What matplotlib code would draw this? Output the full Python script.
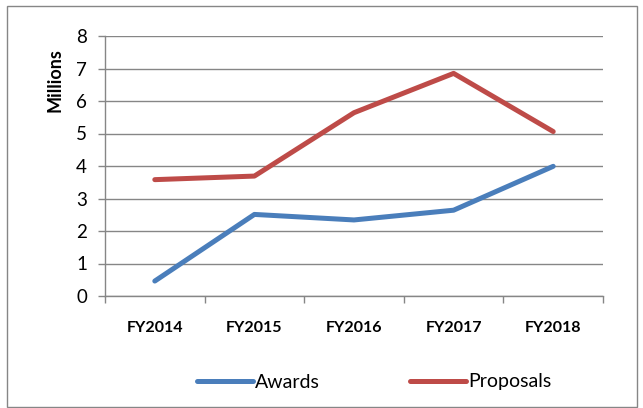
import matplotlib
matplotlib.use("Agg")
import matplotlib.pyplot as plt
from matplotlib.patches import Rectangle

categories = ["FY2014", "FY2015", "FY2016", "FY2017", "FY2018"]
awards = [0.46, 2.51, 2.34, 2.64, 3.99]
proposals = [3.58, 3.69, 5.64, 6.85, 5.06]
y_ticks = [0, 1, 2, 3, 4, 5, 6, 7, 8]

plt.rcParams['font.family'] = ['Lato', 'DejaVu Sans']

fig = plt.figure(figsize=(6.43, 4.08), dpi=100)
ax = fig.add_axes([105/643, 1-296/408, (603-105)/643, (296-36)/408])

grid_c = "#868686"
x = [i + 0.5 for i in range(len(categories))]
ax.plot(x, awards, color="#4A7EBB", lw=3.6, solid_capstyle="round", solid_joinstyle="round", label="Awards", zorder=3)
ax.plot(x, proposals, color="#BE4B48", lw=3.6, solid_capstyle="round", solid_joinstyle="round", label="Proposals", zorder=3)

ax.set_xlim(0, len(categories))
ax.set_ylim(0, 8)
ax.set_yticks(y_ticks)
ax.set_yticklabels([str(v) for v in y_ticks], fontsize=13.5)
ax.yaxis.grid(True, color=grid_c, lw=1.0)
ax.set_axisbelow(True)
ax.set_xticks(range(len(categories) + 1))
ax.set_xticklabels([])
ax.set_xticks(x, minor=True)
ax.set_xticklabels(categories, minor=True, fontsize=11.5, fontweight="bold")
ax.tick_params(axis="x", which="minor", length=0, pad=18)
ax.tick_params(axis="x", which="major", length=5, color=grid_c, width=1)
ax.tick_params(axis="y", length=5, color=grid_c, width=1, pad=8)
for s in ["top", "right"]:
    ax.spines[s].set_visible(False)
for s in ["left", "bottom"]:
    ax.spines[s].set_color(grid_c)
    ax.spines[s].set_linewidth(1.0)
fig.text(55/643, 1-80/408, "Millions", rotation=90, fontsize=13, fontweight="bold",
         ha="center", va="center")

leg = fig.legend(loc="center", bbox_to_anchor=(374/643, 1-382/408), ncol=2, frameon=False,
                 fontsize=14, handlelength=2.9, handletextpad=0.1, columnspacing=4.6)

fig.patches.append(Rectangle((7/643, 0.002), (637-7)/643, 1-6/408-0.002, transform=fig.transFigure,
                             fill=False, edgecolor="#868686", lw=1.0))

fig.savefig("out.png", dpi=100)
